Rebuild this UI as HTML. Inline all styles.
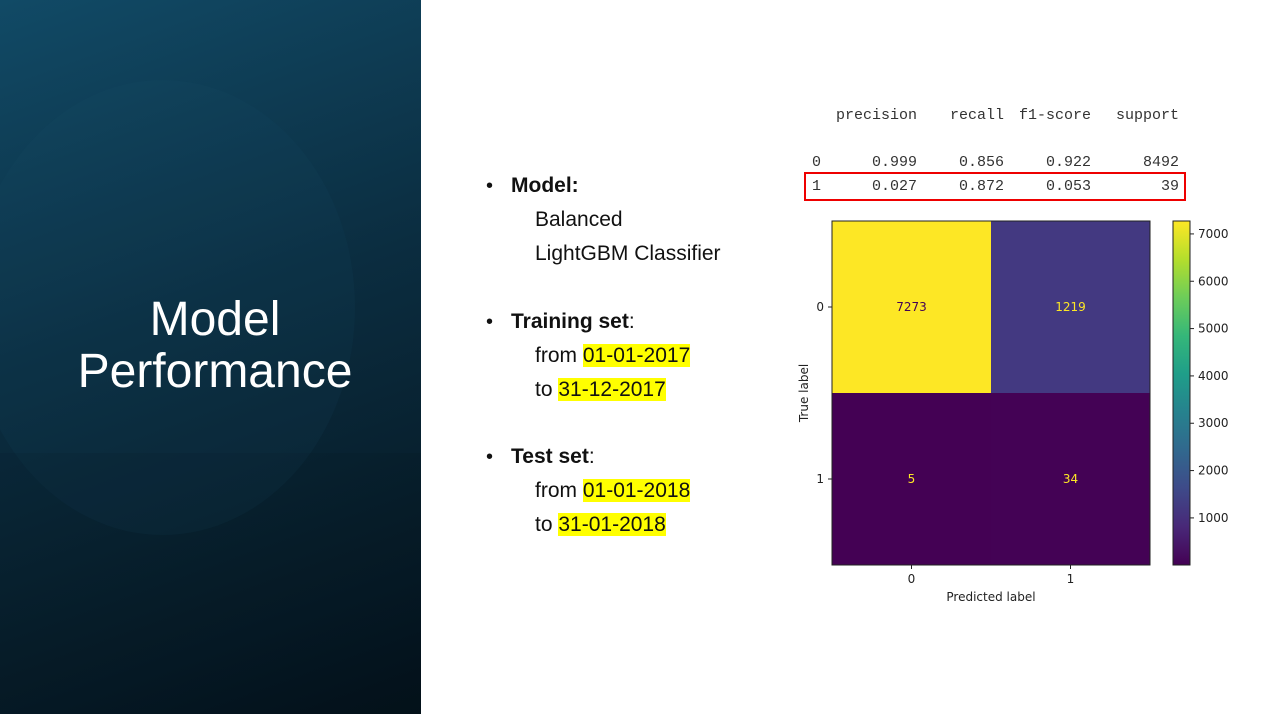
<!DOCTYPE html>
<html><head><meta charset="utf-8"><style>
body{margin:0;width:1272px;height:714px;overflow:hidden;background:#fff;font-family:"Liberation Sans",sans-serif;position:relative}
#left{position:absolute;left:0;top:0;width:421px;height:714px;background:linear-gradient(160deg,#114a66 0%,#0b2d40 45%,#04121b 100%);overflow:hidden}
#circ{position:absolute;left:-30px;top:80px;width:385px;height:455px;border-radius:50%;background:rgba(30,80,110,0.11)}
#band{position:absolute;left:0;top:453px;width:421px;height:261px;background:rgba(0,0,0,0.05)}
.title{position:absolute;left:0;width:430px;text-align:center;color:#fff;font-size:48px;line-height:52px}
.t{position:absolute;font-size:21px;color:#111;white-space:nowrap}
.hl{background:#ffff00}
.b{position:absolute;left:486px;font-size:20px;color:#111}
</style></head><body>
<div id="left"><div id="circ"></div><div id="band"></div>
<div class="title" style="top:294px">Model<br>Performance</div></div>

<div class="b" style="top:175px">•</div>
<div class="t" style="left:511px;top:174px"><b>Model:</b></div>
<div class="t" style="left:535px;top:208px">Balanced</div>
<div class="t" style="left:535px;top:242px">LightGBM Classifier</div>
<div class="b" style="top:311px">•</div>
<div class="t" style="left:511px;top:310px"><b>Training set</b>:</div>
<div class="t" style="left:535px;top:344px">from <span class="hl">01-01-2017</span></div>
<div class="t" style="left:535px;top:378px">to <span class="hl">31-12-2017</span></div>
<div class="b" style="top:446px">•</div>
<div class="t" style="left:511px;top:445px"><b>Test set</b>:</div>
<div class="t" style="left:535px;top:479px">from <span class="hl">01-01-2018</span></div>
<div class="t" style="left:535px;top:513px">to <span class="hl">31-01-2018</span></div>

<svg id="rep" width="1272" height="714" style="position:absolute;left:0;top:0">
<g font-family="Liberation Mono, DejaVu Sans Mono, monospace" font-size="15" fill="#333" text-anchor="end">
<text x="917" y="119">precision</text><text x="1004" y="119">recall</text><text x="1091" y="119">f1-score</text><text x="1179" y="119">support</text>
<text x="821" y="166">0</text><text x="917" y="166">0.999</text><text x="1004" y="166">0.856</text><text x="1091" y="166">0.922</text><text x="1179" y="166">8492</text>
<text x="821" y="190">1</text><text x="917" y="190">0.027</text><text x="1004" y="190">0.872</text><text x="1091" y="190">0.053</text><text x="1179" y="190">39</text>
</g>
<rect x="805" y="173" width="380" height="27" fill="none" stroke="#e00" stroke-width="2"/>
</svg>
<svg id="cm" width="1272" height="714" style="position:absolute;left:0;top:0"></svg>
<script>
const trueLabels=["0","1"];
const predLabels=["0","1"];
const row0=[7273,1219];
const row1=[5,34];
const cbTicks=[1000,2000,3000,4000,5000,6000,7000];
const values=[row0,row1];
const NS="http://www.w3.org/2000/svg";
const svg=document.getElementById('cm');
const X0=832,X1=1150,Y0=221,Y1=565;
const all=values.flat();const vmin=Math.min(...all),vmax=Math.max(...all);
const stops=[[68,1,84],[72,40,120],[62,74,137],[49,104,142],[38,130,142],[31,158,137],[53,183,121],[109,205,89],[180,222,44],[253,231,37]];
function viridis(t){t=Math.max(0,Math.min(1,t));const p=t*(stops.length-1),i=Math.min(Math.floor(p),stops.length-2),f=p-i;const c=stops[i].map((v,k)=>Math.round(v+(stops[i+1][k]-v)*f));return `rgb(${c})`;}
function xs(j){return X0+j*(X1-X0)/predLabels.length;}
function ys(i){return Y0+i*(Y1-Y0)/trueLabels.length;}
function mk(tag,a){const e=document.createElementNS(NS,tag);for(const k in a)e.setAttribute(k,a[k]);svg.appendChild(e);return e;}
const cw=(X1-X0)/predLabels.length,ch=(Y1-Y0)/trueLabels.length;
values.forEach((r,i)=>r.forEach((v,j)=>{
 const t=(v-vmin)/(vmax-vmin);
 const c=mk('rect',{x:xs(j),y:ys(i),width:cw,height:ch,fill:viridis(t)});
 
 
 const tx=mk('text',{x:xs(j)+cw/2,y:ys(i)+ch/2+4,'text-anchor':'middle','font-size':'12','fill':t>0.5?'#440154':'#fde725','font-family':'DejaVu Sans, sans-serif'});
 tx.textContent=v;
 
 
}));
mk('rect',{x:X0,y:Y0,width:X1-X0,height:Y1-Y0,fill:'none',stroke:'#222','stroke-width':1});
predLabels.forEach((l,j)=>{const x=xs(j)+cw/2;mk('line',{x1:x,x2:x,y1:Y1,y2:Y1+4,stroke:'#222'});const t=mk('text',{x:x,y:Y1+18,'text-anchor':'middle','font-size':'12','font-family':'DejaVu Sans, sans-serif',fill:'#222'});t.textContent=l;
});
trueLabels.forEach((l,i)=>{const y=ys(i)+ch/2;mk('line',{x1:X0-4,x2:X0,y1:y,y2:y,stroke:'#222'});const t=mk('text',{x:X0-8,y:y+4,'text-anchor':'end','font-size':'12','font-family':'DejaVu Sans, sans-serif',fill:'#222'});t.textContent=l;
});
let xt=mk('text',{x:(X0+X1)/2,y:Y1+36,'text-anchor':'middle','font-size':'12','font-family':'DejaVu Sans, sans-serif',fill:'#222'});xt.textContent='Predicted label';


let yt=mk('text',{x:0,y:0,transform:`translate(808,${(Y0+Y1)/2}) rotate(-90)`,'text-anchor':'middle','font-size':'12','font-family':'DejaVu Sans, sans-serif',fill:'#222'});yt.textContent='True label';


const CX=1173,CW=17;
const defs=mk('defs',{});const g=document.createElementNS(NS,'linearGradient');g.setAttribute('id','vg');g.setAttribute('x1','0');g.setAttribute('y1','1');g.setAttribute('x2','0');g.setAttribute('y2','0');defs.appendChild(g);
stops.forEach((s,k)=>{const st=document.createElementNS(NS,'stop');st.setAttribute('offset',k/(stops.length-1));st.setAttribute('stop-color',`rgb(${s})`);g.appendChild(st);});
const cb=mk('rect',{x:CX,y:Y0,width:CW,height:Y1-Y0,fill:'url(#vg)',stroke:'#222','stroke-width':1});


function cy(v){return Y1-(v-vmin)/(vmax-vmin)*(Y1-Y0);}
cbTicks.forEach(v=>{const y=cy(v);mk('line',{x1:CX+CW,x2:CX+CW+4,y1:y,y2:y,stroke:'#222'});const t=mk('text',{x:CX+CW+8,y:y+4,'font-size':'12','font-family':'DejaVu Sans, sans-serif',fill:'#222'});t.textContent=v;
});
</script>
</body></html>
